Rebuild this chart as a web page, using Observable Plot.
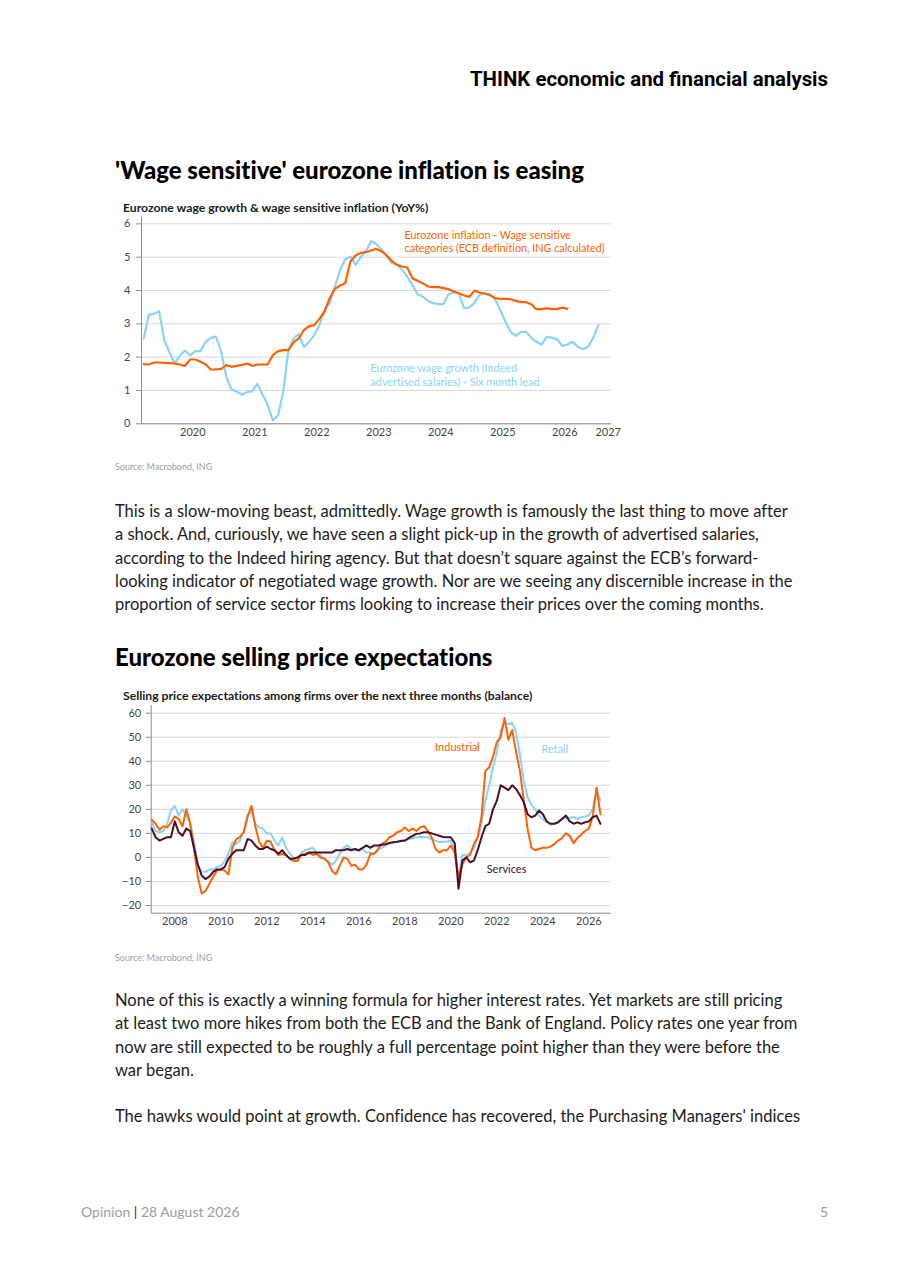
<!DOCTYPE html>
<html>
<head>
<meta charset="utf-8">
<script src="https://cdn.jsdelivr.net/npm/d3@7"></script>
<script src="https://cdn.jsdelivr.net/npm/@observablehq/plot@0.6"></script>
<style>
html,body{margin:0;padding:0;background:#fff;}
#page{position:relative;width:910px;height:1287px;overflow:hidden;font-family:Lato,"Noto Sans",sans-serif;color:#1c1c1c;font-variant-ligatures:none;}
.a{position:absolute;white-space:nowrap;}
#hdr{right:82px;top:66px;font:700 20.4px/26px Roboto,sans-serif;color:#000;}
.h2{left:115px;font-weight:900;font-size:24px;line-height:30px;color:#000;}
.ct{left:123px;font-weight:700;font-size:12.2px;line-height:14px;color:#1a1a1a;}
.src{left:115px;font-size:9px;line-height:12px;color:#a0a0a0;}
.p{left:115px;font-size:16.5px;line-height:23.3px;}
.chart{left:110px;}
.chart svg{display:block;}
#foot{left:81px;top:1203px;font-size:14px;line-height:18px;color:#9d9d9d;}
#foot b{font-weight:400;color:#333;}
#pg{left:820px;top:1203px;font-size:14px;line-height:18px;color:#9d9d9d;}
</style>
</head>
<body>
<div id="page">
  <div id="hdr" class="a">THINK economic and financial analysis</div>
  <div class="a h2" style="top:155px">'Wage sensitive' eurozone inflation is easing</div>
  <div class="a ct" style="top:201px">Eurozone wage growth &amp; wage sensitive inflation (YoY%)</div>
  <div class="a chart" id="c1" style="top:212px"></div>
  <div class="a src" style="top:461px">Source: Macrobond, ING</div>
  <div class="a p" style="top:500px">This is a slow-moving beast, admittedly. Wage growth is famously the last thing to move after<br>a shock. And, curiously, we have seen a slight pick-up in the growth of advertised salaries,<br>according to the Indeed hiring agency. But that doesn’t square against the ECB’s forward-<br>looking indicator of negotiated wage growth. Nor are we seeing any discernible increase in the<br>proportion of service sector firms looking to increase their prices over the coming months.</div>
  <div class="a h2" style="top:642px">Eurozone selling price expectations</div>
  <div class="a ct" style="top:689px">Selling price expectations among firms over the next three months (balance)</div>
  <div class="a chart" id="c2" style="top:695px"></div>
  <div class="a src" style="top:952px">Source: Macrobond, ING</div>
  <div class="a p" style="top:989px">None of this is exactly a winning formula for higher interest rates. Yet markets are still pricing<br>at least two more hikes from both the ECB and the Bank of England. Policy rates one year from<br>now are still expected to be roughly a full percentage point higher than they were before the<br>war began.</div>
  <div class="a p" style="top:1105px">The hawks would point at growth. Confidence has recovered, the Purchasing Managers' indices</div>
  <div id="foot" class="a">Opinion <b>|</b> 28 August 2026</div>
  <div id="pg" class="a">5</div>
</div>
<script>
// ---------- Chart 1 data (monthly, Sep 2019 onward) ----------
const wageSensitiveInflation = [
  1.79,1.78,1.84,1.84,
  1.83,1.82,1.81,1.78,1.74,1.93,1.93,1.86,1.78,1.63,1.63,1.65,
  1.76,1.71,1.74,1.77,1.81,1.74,1.78,1.78,1.78,2.06,2.18,2.21,
  2.21,2.44,2.56,2.81,2.93,2.96,3.15,3.37,3.77,4.05,4.15,4.22,
  4.87,5.05,5.13,5.15,5.20,5.25,5.18,5.06,4.89,4.77,4.72,4.69,
  4.37,4.29,4.22,4.12,4.10,4.10,4.07,4.04,3.97,3.92,3.85,3.81,
  3.99,3.94,3.91,3.87,3.77,3.75,3.75,3.74,3.69,3.65,3.65,3.59,
  3.44,3.44,3.47,3.44,3.44,3.49,3.45
];
const indeedWageGrowthLead = [
  2.56,3.27,3.30,3.38,
  2.50,2.15,1.80,2.05,2.20,2.06,2.18,2.18,2.46,2.58,2.62,2.16,
  1.40,1.03,0.97,0.87,0.95,0.98,1.20,0.88,0.57,0.10,0.25,0.95,
  2.20,2.56,2.70,2.30,2.46,2.66,2.96,3.41,3.62,4.12,4.60,4.94,
  5.02,4.77,5.00,5.18,5.48,5.40,5.23,5.03,4.82,4.79,4.62,4.42,
  4.17,3.89,3.82,3.69,3.62,3.59,3.59,3.89,3.95,3.91,3.47,3.49,
  3.62,3.87,3.92,3.87,3.74,3.42,3.07,2.76,2.64,2.76,2.76,2.58,
  2.46,2.38,2.61,2.58,2.54,2.34,2.38,2.46,2.31,2.24,2.31,2.58,
  2.96
];
const wageYTicks = [0,1,2,3,4,5,6];
const wageXTicks = [2020.5,2021.5,2022.5,2023.5,2024.5,2025.5,2026.5,2027.2];
const wageLabels = [
  {t:2023.915, v:5.48, text:"Eurozone inflation - Wage sensitive\ncategories (ECB definition, ING calculated)", c:"orange"},
  {t:2023.366, v:1.47, text:"Eurozone wage growth (Indeed\nadvertised salaries) - Six month lead", c:"blue"}
];

// ---------- Chart 2 data (every second month, Jan 2007 onward) ----------
const industrial = [
  15.6,14,11.5,13,12.5,14.5,
  17,16,13,20,14,4,
  -8,-15,-14,-11,-8,-5.5,
  -5,-5.5,-7,4,7.5,8.5,
  10.5,17,21.5,13,6.5,4,
  7,6.5,3,1,1.5,1,
  -0.5,-1.5,-1.5,1,1.5,2,
  1,1.5,0,-0.5,-2,-5.5,
  -7,-3.5,0,-0.5,-3.5,-3,
  -5,-5,-3,1.5,1.5,3.5,
  5.6,6.5,8.4,9,10.5,11,
  12.5,11,12,11,12.5,13,
  11,8.4,3.5,2,3,3,
  5,2,-8,-3,0,1,
  5.6,8.4,17,36,37.5,42,
  48,50,58,49,53,44,
  36,24,12,4,3,3.5,
  4,4,4.5,5.5,7,8,
  10,9,6,8,9.5,11,
  12,17,29,18
];
const retail = [
  14.6,11,10.5,11,14,19.5,
  21.5,17.4,20,17.4,14.6,7,
  -3,-6,-6,-5,-5,-4,
  -3.5,-1.5,1.5,6.3,5.6,7,
  11,18,19,14,12.5,12,
  10,10,7,5,8.4,4,
  1.5,0,-1.5,2,3,3.5,
  4,2,1,-0.5,-1.5,-3,
  -1.5,1.5,4,5,3.5,3,
  2.5,3.5,2,2,1.5,3,
  4,5,6,6.3,6.5,7,
  7,7.5,8,8.4,8.5,8.4,
  8.4,7.5,7,6.3,6.5,6.5,
  7,3,-9,1,1,2,
  4,8,14,23.6,30,37.5,
  43.8,52.8,56,55.5,56,52,
  43,32,25,22,20,17.4,
  16,14.6,13.6,14,15,16,
  16.7,16.5,16.7,16,16.7,17,
  17.5,20,28,23.6
];
const services = [
  12,8.4,7,7.7,8.4,8.4,
  15,10.5,9,12,11,4,
  -3,-7.5,-9,-8,-6,-5,
  -5,-4,-0.5,1.5,3,3,
  3,7.7,7,5,3.5,3.5,
  4.5,3.5,3,1.5,3,1,
  -0.5,-0.5,0,1,1,2,
  2,2,2,2,2,2,
  3,3,3,3.5,3,3.5,
  3,4,5,4,5,5,
  5.3,5.5,6,6.3,6.5,6.8,
  7,8,9,9.8,10,10.5,
  10.5,10,9.5,9,8.5,8.4,
  8.4,6,-13,-1.3,0,-2,
  -1.3,3,8.4,13,14,20,
  23.6,30,29,28,30,28.5,
  26,23,18,16.7,17.4,19.5,
  18,15,14,14,14.6,16,
  17.4,15,14,14.6,14,14.6,
  15,16.7,17.4,14
];
const priceYTicks = [-20,-10,0,10,20,30,40,50,60];
const priceXTicks = [2008,2010,2012,2014,2016,2018,2020,2022,2024,2026];
const priceLabels = [
  {t:2020.29, v:45.7, text:"Industrial", c:"orange"},
  {t:2024.51, v:44.9, text:"Retail", c:"blue"},
  {t:2022.42, v:-5.0, text:"Services", c:"maroon"}
];

const ORANGE = "#ff6200", BLUE = "#89d3f6", MAROON = "#4e0d26";
const colorOf = {orange: ORANGE, blue: BLUE, maroon: MAROON};
const AX = "#8c8c8c", GRID = "#d9d9d9", TXT = "#444";
const style = {fontFamily: "Lato, 'Noto Sans', sans-serif", fontSize: "11px", color: TXT, background: "transparent", fontVariantLigatures: "none"};

const monthly = (arr, y0, m0) => arr.map((v, i) => ({t: y0 + (m0 + i + 0.5) / 12, v}));
const bimonthly = (arr, y0) => arr.map((v, i) => ({t: y0 + (2 * i) / 12, v}));

// ---------- Chart 1 ----------
const x1 = [2019.673, 2027.253], y1 = [0, 6.2];
const c1 = Plot.plot({
  width: 520, height: 240,
  marginLeft: 31, marginRight: 19, marginTop: 4.7, marginBottom: 28.7,
  x: {domain: x1}, y: {domain: y1},
  style,
  marks: [
    Plot.gridY(wageYTicks, {stroke: GRID, strokeOpacity: 1}),
    Plot.axisY(wageYTicks, {tickSize: 5, tickPadding: 6, stroke: AX, fill: TXT, label: null}),
    Plot.axisX(wageXTicks, {tickSize: 0, tickPadding: 4, tickFormat: d => String(Math.floor(d)), fill: TXT, label: null}),
    Plot.ruleX([x1[0]], {stroke: AX}),
    Plot.ruleY([y1[0]], {stroke: AX}),
    Plot.line(monthly(indeedWageGrowthLead, 2019, 8), {x: "t", y: "v", stroke: BLUE, strokeWidth: 2.2}),
    Plot.line(monthly(wageSensitiveInflation, 2019, 8), {x: "t", y: "v", stroke: ORANGE, strokeWidth: 2.2}),
    Plot.text(wageLabels, {x: "t", y: "v", text: "text", fill: d => colorOf[d.c], textAnchor: "start", lineAnchor: "middle", lineHeight: 1.25, fontSize: 10.8})
  ]
});
document.getElementById("c1").appendChild(c1);

// ---------- Chart 2 ----------
const x2 = [2006.974, 2026.97], y2 = [-23.2, 63.2];
const c2 = Plot.plot({
  width: 520, height: 245,
  marginLeft: 40.7, marginRight: 19.3, marginTop: 10, marginBottom: 27.3,
  x: {domain: x2}, y: {domain: y2},
  style,
  marks: [
    Plot.gridY(priceYTicks, {stroke: GRID, strokeOpacity: 1}),
    Plot.axisY(priceYTicks, {tickSize: 5, tickPadding: 5, stroke: AX, fill: TXT, label: null}),
    Plot.axisX(priceXTicks, {tickSize: 0, tickPadding: 4, tickFormat: d => String(d), fill: TXT, label: null}),
    Plot.ruleX([x2[0]], {stroke: AX}),
    Plot.ruleY([y2[0]], {stroke: AX}),
    Plot.line(bimonthly(retail, 2007), {x: "t", y: "v", stroke: BLUE, strokeWidth: 2}),
    Plot.line(bimonthly(industrial, 2007), {x: "t", y: "v", stroke: ORANGE, strokeWidth: 2}),
    Plot.line(bimonthly(services, 2007), {x: "t", y: "v", stroke: MAROON, strokeWidth: 2}),
    Plot.text(priceLabels, {x: "t", y: "v", text: "text", fill: d => colorOf[d.c], textAnchor: "middle", fontSize: 11})
  ]
});
document.getElementById("c2").appendChild(c2);
</script>
</body>
</html>
